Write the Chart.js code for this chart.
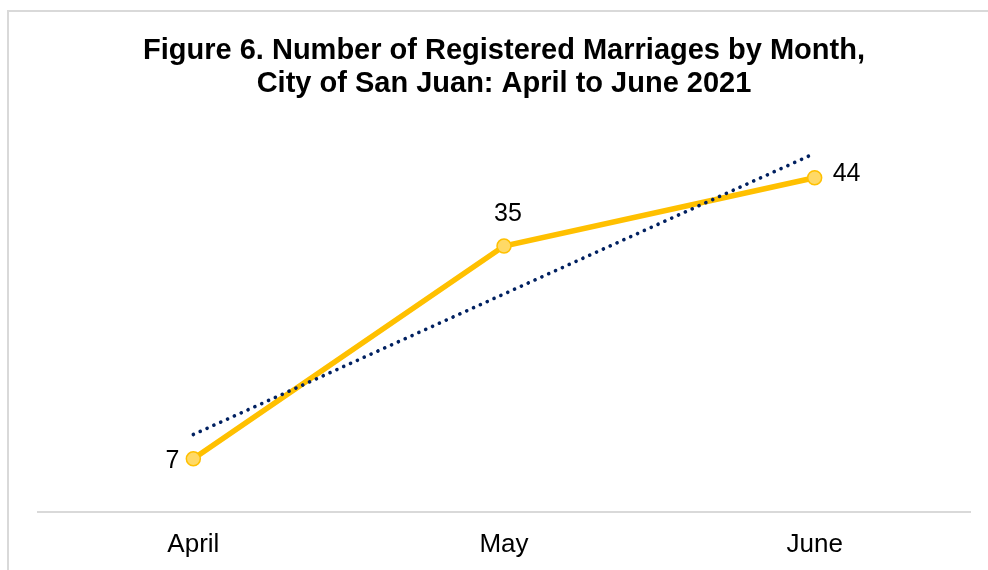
<!DOCTYPE html>
<html>
<head>
<meta charset="utf-8">
<script src="https://cdn.jsdelivr.net/npm/chart.js@4"></script>
<style>
  html, body { margin: 0; padding: 0; background: #fff; overflow: hidden; width: 988px; height: 570px; }
  #frame { position: absolute; left: 7px; top: 10px; width: 1000px; height: 600px; border: 2px solid #d9d9d9; box-sizing: border-box; }
  #wrap { position: absolute; left: 0; top: 0; width: 1008px; height: 570px; }
</style>
</head>
<body>
<div id="frame"></div>
<div id="wrap"><canvas id="chart"></canvas></div>
<script>
// data
const months = ['April', 'May', 'June'];
const marriages = [7, 35, 44];
const trendValues = [10.2, 28.7, 47.2]; // linear trendline as drawn

const FONT = "'Liberation Sans', Arial, sans-serif";

// ===== DATA LABELS (left / above / right of each point) =====
const labelPlugin = {
    id: 'pointLabels',
    afterDatasetsDraw(chart) {
        const ctx = chart.ctx;
        const meta = chart.getDatasetMeta(1);
        const sides = ['left', 'top', 'right'];
        ctx.save();
        ctx.font = `25px ${FONT}`;
        ctx.fillStyle = '#000';
        ctx.textBaseline = 'middle';
        meta.data.forEach((pt, i) => {
            const v = marriages[i];
            if (sides[i] === 'left') {
                ctx.textAlign = 'right';
                ctx.fillText(v, pt.x - 14, pt.y + 2);
            } else if (sides[i] === 'top') {
                ctx.textAlign = 'center';
                ctx.fillText(v, pt.x + 4, pt.y - 32);
            } else {
                ctx.textAlign = 'left';
                ctx.fillText(v, pt.x + 18, pt.y - 4);
            }
        });
        ctx.restore();
    }
};

new Chart(document.getElementById('chart'), {
    type: 'line',
    data: {
        labels: months,
        datasets: [
            {
                label: 'Linear trend',
                data: trendValues,
                borderColor: '#002060',
                borderWidth: 3.6,
                borderDash: [0.1, 7.4],
                borderCapStyle: 'round',
                pointRadius: 0,
                fill: false,
                order: 0
            },
            {
                label: 'Registered marriages',
                data: marriages,
                borderColor: '#FFC000',
                borderWidth: 5.5,
                pointRadius: 7,
                pointBackgroundColor: '#FFD966',
                pointBorderColor: '#FFC000',
                pointBorderWidth: 1.5,
                fill: false,
                tension: 0,
                order: 1
            }
        ]
    },
    options: {
        responsive: true,
        maintainAspectRatio: false,
        animation: false,
        clip: false,
        layout: { padding: { left: 38, right: 38, top: 0, bottom: 0 } },
        plugins: {
            legend: { display: false },
            tooltip: { enabled: false },
            title: {
                display: true,
                text: ['Figure 6. Number of Registered Marriages by Month,', 'City of San Juan: April to June 2021'],
                color: '#000',
                font: { family: FONT, size: 29, weight: 'bold', lineHeight: 1.14 },
                padding: { top: 34, bottom: 32 }
            }
        },
        scales: {
            x: {
                offset: true,
                grid: { display: false, drawTicks: false },
                border: { display: true, color: '#d9d9d9', width: 2 },
                ticks: { color: '#000', font: { family: FONT, size: 26 }, padding: 17 },
                afterFit(scale) { scale.height = 58; }
            },
            y: {
                display: false,
                min: 0,
                max: 50
            }
        }
    },
    plugins: [labelPlugin]
});
</script>
</body>
</html>
